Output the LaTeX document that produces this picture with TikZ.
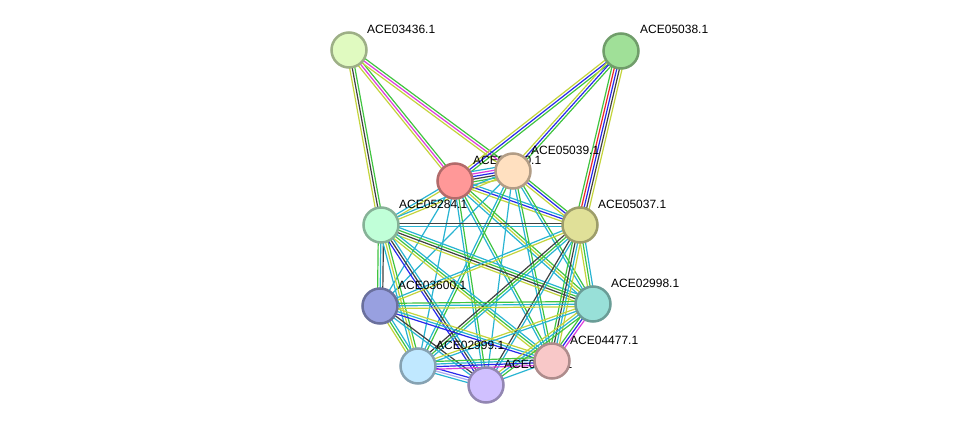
\documentclass[tikz,border=0pt]{standalone}
\usepackage{fontspec}
\setmainfont{Liberation Sans}
\usetikzlibrary{calc,backgrounds}
\pgfdeclarelayer{canvas}
\pgfsetlayers{canvas,background,main}

% evidence colours
\definecolor{txtmine}{RGB}{196,212,60}
\definecolor{neigh}{RGB}{64,196,64}
\definecolor{cooc}{RGB}{40,40,235}
\definecolor{fusion}{RGB}{235,40,40}
\definecolor{coexp}{RGB}{64,64,64}
\definecolor{exper}{RGB}{220,60,220}
\definecolor{dbase}{RGB}{40,180,210}
\definecolor{homol}{RGB}{170,170,240}

% protein colours
\definecolor{cA}{RGB}{224,250,192}
\definecolor{cB}{RGB}{160,224,152}
\definecolor{cS}{RGB}{192,255,216}
\definecolor{cR}{RGB}{255,152,152}
\definecolor{cP}{RGB}{255,224,192}
\definecolor{cT}{RGB}{224,224,152}
\definecolor{cU}{RGB}{152,160,224}
\definecolor{cV}{RGB}{152,224,216}
\definecolor{cW}{RGB}{192,232,255}
\definecolor{cX}{RGB}{208,192,255}
\definecolor{cY}{RGB}{248,200,200}

% bundle of parallel lines between two nodes
\newcommand{\linkset}[3]{%
  \foreach \c [count=\n] in {#3} {\xdef\nlines{\n}}%
  \foreach \c [count=\i] in {#3} {%
    \pgfmathsetmacro{\off}{(\i-(\nlines+1)/2)*2.6}%
    \draw[\c, line width=1.2pt] ($(#1)!\off pt!90:(#2)$) -- ($(#2)!\off pt!-90:(#1)$);
  }%
}

\begin{document}
\begin{tikzpicture}[
    x=1pt, y=-1pt,
    prot/.style={
        circle,
        draw=#1!70!black,
        fill=#1,
        line width=2.5pt,
        minimum size=35pt,
        inner sep=0pt
    },
    lbl/.style={
        anchor=base west,
        inner sep=0pt,
        font=\fontsize{12}{14}\selectfont
    }
]
\begin{pgfonlayer}{canvas}
\useasboundingbox[fill=white] (0,0) rectangle (975,431);
\end{pgfonlayer}

% Proteinas
\node[prot=cA] (A) at (349,50) {};
\node[lbl] (A-l) at (367,33) {ACE03436.1};
\node[prot=cB] (B) at (621,51) {};
\node[lbl] (B-l) at (640,34) {ACE05038.1};
\node[prot=cS] (S) at (381,225) {};
\node[lbl] (S-l) at (399,208) {ACE05284.1};
\node[prot=cR] (R) at (455,181) {};
\node[lbl] (R-l) at (473,164) {ACE05040.1};
\node[prot=cP] (P) at (513,171) {};
\node[lbl] (P-l) at (531,154) {ACE05039.1};
\node[prot=cT] (T) at (580,225) {};
\node[lbl] (T-l) at (598,208) {ACE05037.1};
\node[prot=cU] (U) at (380,306) {};
\node[lbl] (U-l) at (398,289) {ACE03600.1};
\node[prot=cV] (V) at (593,304) {};
\node[lbl] (V-l) at (611,287) {ACE02998.1};
\node[prot=cW] (W) at (418,366) {};
\node[lbl] (W-l) at (436,349) {ACE02999.1};
\node[prot=cX] (X) at (486,385) {};
\node[lbl] (X-l) at (504,368) {ACE04478.1};
\node[prot=cY] (Y) at (552,361) {};
\node[lbl] (Y-l) at (570,344) {ACE04477.1};

% Enlaces
\begin{scope}[on background layer]
\linkset{A}{S}{txtmine,coexp,neigh}
\linkset{A}{R}{txtmine,exper,neigh}
\linkset{A}{P}{txtmine,exper,neigh}
\linkset{B}{R}{txtmine,cooc,neigh}
\linkset{B}{P}{txtmine,cooc,neigh}
\linkset{B}{T}{neigh,fusion,cooc,coexp,txtmine}
\linkset{R}{P}{txtmine,neigh,coexp,cooc,exper,dbase}
\linkset{R}{S}{dbase,txtmine}
\linkset{R}{T}{txtmine,cooc,dbase}
\linkset{P}{T}{txtmine,cooc,neigh}
\linkset{P}{S}{dbase,txtmine}
\linkset{R}{U}{dbase}
\linkset{R}{V}{dbase,txtmine,neigh}
\linkset{R}{W}{dbase}
\linkset{R}{X}{dbase,neigh}
\linkset{R}{Y}{dbase,neigh}
\linkset{P}{U}{dbase}
\linkset{P}{V}{dbase,neigh}
\linkset{P}{W}{dbase,neigh}
\linkset{P}{X}{dbase}
\linkset{P}{Y}{dbase,neigh}
\linkset{S}{T}{dbase,coexp}
\linkset{S}{U}{neigh,dbase,coexp}
\linkset{S}{V}{txtmine,coexp,neigh,dbase}
\linkset{S}{W}{dbase,txtmine,neigh}
\linkset{S}{X}{cooc,coexp,dbase}
\linkset{S}{Y}{txtmine,neigh,dbase}
\linkset{T}{U}{dbase,txtmine}
\linkset{T}{V}{txtmine,neigh,dbase}
\linkset{T}{W}{coexp,neigh,dbase}
\linkset{T}{X}{coexp,dbase}
\linkset{T}{Y}{neigh,coexp,dbase,txtmine}
\linkset{U}{V}{txtmine,dbase,neigh}
\linkset{U}{W}{txtmine,neigh,dbase}
\linkset{U}{X}{dbase,coexp}
\linkset{U}{Y}{cooc,dbase,txtmine}
\linkset{V}{W}{txtmine,dbase}
\linkset{V}{X}{txtmine,dbase,neigh}
\linkset{V}{Y}{neigh,cooc,exper}
\linkset{W}{X}{dbase,homol,cooc}
\linkset{W}{Y}{exper,cooc,dbase,neigh}
\linkset{X}{Y}{dbase}
\end{scope}

\end{tikzpicture}
\end{document}
